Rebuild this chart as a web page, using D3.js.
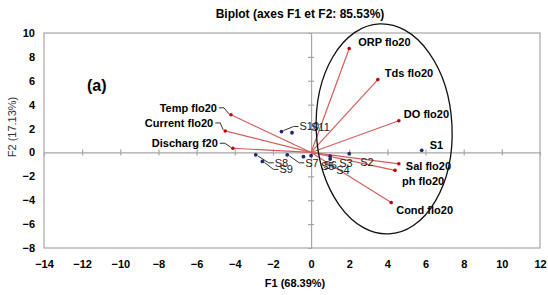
<!DOCTYPE html>
<html>
<head>
<meta charset="utf-8">
<script src="https://cdn.jsdelivr.net/npm/d3@7"></script>
<style>
  body { margin: 0; background: #fff; }
  svg { font-family: "Liberation Sans", Arial, sans-serif; }
  .tick-lbl { font-size: 11px; font-weight: bold; fill: #000; }
  .var-lbl { font-size: 11px; font-weight: bold; fill: #000; }
  .obs-lbl { font-size: 11px; fill: #222; }
</style>
</head>
<body>
<div id="chart"></div>
<script>
// variables (red vectors)
var varNames = ["ORP flo20", "Tds flo20", "DO flo20", "Sal flo20", "ph flo20", "Cond flo20", "Temp flo20", "Current flo20", "Discharg f20"];
var varF1 = [2.0, 3.5, 4.6, 4.6, 4.4, 4.2, -4.2, -4.5, -4.1];
var varF2 = [8.7, 6.1, 2.65, -0.95, -1.5, -4.2, 3.15, 1.8, 0.35];

// observations (blue points)
var obsNames = ["S1", "S2", "S3", "S4", "S5", "S6", "S7", "S8", "S9", "S10", "S11"];
var obsF1 = [5.8, 2.0, 1.0, 1.0, 0.0, -0.4, -1.25, -2.9, -2.55, -1.55, -1.0];
var obsF2 = [0.18, -0.1, -0.3, -0.55, -0.27, -0.35, -0.2, -0.2, -0.75, 1.75, 1.65];

var xTicks = [-14, -12, -10, -8, -6, -4, -2, 0, 2, 4, 6, 8, 10, 12];
var yTicks = [-8, -6, -4, -2, 0, 2, 4, 6, 8, 10];

// label placement (pixels from the mark): dx, dy, anchor, leader
var varLabelPos = {
  "ORP flo20": [9, -6, "start", false],
  "Tds flo20": [7, -6, "start", false],
  "DO flo20": [5, -7, "start", false],
  "Sal flo20": [7, 2, "start", false],
  "ph flo20": [7, 11, "start", false],
  "Cond flo20": [5, 8, "start", false],
  "Temp flo20": [-14, -7, "end", true],
  "Current flo20": [-12, -8, "end", true],
  "Discharg f20": [-15, -5, "end", true]
};
var obsLabelPos = {
  "S1": [8, -5, false], "S2": [11, 9, false], "S3": [9, 7, false], "S4": [6, 11, false],
  "S5": [10, 10, false], "S6": [20, 9, false], "S7": [18, 8, true], "S8": [19, 8, true],
  "S9": [17, 8, true], "S10": [18, -5, true], "S11": [19, -6, false]
};

var svgWidth = 548, svgHeight = 295;
var margin = { top: 33, right: 8, bottom: 47, left: 44 };
var width = svgWidth - margin.left - margin.right;
var height = svgHeight - margin.top - margin.bottom;

var svg = d3.select("#chart").append("svg")
  .attr("width", svgWidth)
  .attr("height", svgHeight);

var g = svg.append("g")
  .attr("transform", `translate(${margin.left}, ${margin.top})`);

var x = d3.scaleLinear().domain([-14, 12]).range([0, width]);
var y = d3.scaleLinear().domain([-8, 10]).range([height, 0]);

// frame
g.append("rect")
  .attr("width", width).attr("height", height)
  .attr("fill", "none").attr("stroke", "#a6a6a6").attr("stroke-width", 1.2);

// tick labels (bottom and left, outside the frame)
var bottomAxis = d3.axisBottom(x).tickValues(xTicks).tickSize(0).tickPadding(12);
var gx = g.append("g").attr("transform", `translate(0, ${height})`).call(bottomAxis);
gx.select(".domain").remove();
gx.selectAll("text").attr("class", "tick-lbl").attr("font-family", null).attr("font-size", null);

var leftAxis = d3.axisLeft(y).tickValues(yTicks).tickSize(0).tickPadding(9);
var gy = g.append("g").call(leftAxis);
gy.select(".domain").remove();
gy.selectAll("text").attr("class", "tick-lbl").attr("font-family", null).attr("font-size", null);

// zero axes with crossing ticks
var zx = d3.axisBottom(x).tickValues(xTicks.filter(d => d > -14 && d < 12 && d !== 0)).tickSize(3).tickFormat("");
var gzx = g.append("g").attr("transform", `translate(0, ${y(0)})`).call(zx);
gzx.selectAll("line").attr("y1", -3).attr("y2", 3);
var zy = d3.axisLeft(y).tickValues(yTicks.filter(d => d > -8 && d < 10 && d !== 0)).tickSize(3).tickFormat("");
var gzy = g.append("g").attr("transform", `translate(${x(0)}, 0)`).call(zy);
gzy.selectAll("line").attr("x1", -3).attr("x2", 3);
[gzx, gzy].forEach(function(a) {
  a.selectAll("line, path").attr("stroke", "#a6a6a6").attr("stroke-width", 1.2);
});

// vectors
var vars = varNames.map((n, i) => ({ name: n, f1: varF1[i], f2: varF2[i] }));
var obs = obsNames.map((n, i) => ({ name: n, f1: obsF1[i], f2: obsF2[i] }));

g.selectAll(".vec").data(vars).enter().append("line")
  .attr("x1", x(0)).attr("y1", y(0))
  .attr("x2", d => x(d.f1)).attr("y2", d => y(d.f2))
  .attr("stroke", "#d0605c").attr("stroke-width", 1.2);

g.selectAll(".vend").data(vars).enter().append("circle")
  .attr("cx", d => x(d.f1)).attr("cy", d => y(d.f2)).attr("r", 1.8)
  .attr("fill", "#c00000");

// leaders
g.selectAll(".vlead").data(vars.filter(d => varLabelPos[d.name][3])).enter().append("polyline")
  .attr("points", function(d) {
    var px = x(d.f1), py = y(d.f2), p = varLabelPos[d.name];
    var tx = px + p[0] + 2, ty = py + p[1];
    return [[tx, ty], [tx + 5, ty], [px - 2, py - 1]].join(" ");
  })
  .attr("fill", "none").attr("stroke", "#333").attr("stroke-width", 1);

g.selectAll(".vlbl").data(vars).enter().append("text")
  .attr("class", "var-lbl")
  .attr("x", d => x(d.f1) + varLabelPos[d.name][0])
  .attr("y", d => y(d.f2) + varLabelPos[d.name][1])
  .attr("dy", "0.35em")
  .attr("text-anchor", d => varLabelPos[d.name][2])
  .text(d => d.name);

// observations
g.selectAll(".olead").data(obs.filter(d => obsLabelPos[d.name][2])).enter().append("polyline")
  .attr("points", function(d) {
    var px = x(d.f1), py = y(d.f2), p = obsLabelPos[d.name];
    var tx = px + p[0] - 1, ty = py + p[1];
    return [[px + 2, py + (p[1] > 0 ? 1 : -1)], [tx - 5, ty], [tx, ty]].join(" ");
  })
  .attr("fill", "none").attr("stroke", "#333").attr("stroke-width", 1);

g.selectAll(".opt").data(obs).enter().append("circle")
  .attr("cx", d => x(d.f1)).attr("cy", d => y(d.f2)).attr("r", 1.9)
  .attr("fill", "#1f2a6e");

g.selectAll(".olbl").data(obs).enter().append("text")
  .attr("class", "obs-lbl")
  .attr("x", d => x(d.f1) + obsLabelPos[d.name][0])
  .attr("y", d => y(d.f2) + obsLabelPos[d.name][1])
  .attr("dy", "0.35em")
  .style("font-weight", d => d.name === "S1" ? "bold" : null)
  .style("fill", d => d.name === "S1" ? "#000" : null)
  .text(d => d.name);

// ellipse around the right-hand group
var ecx = 3.83, ecy = 1.97, erx = 3.56, ery = 8.8;
g.append("ellipse")
  .attr("cx", x(ecx)).attr("cy", y(ecy))
  .attr("rx", x(ecx + erx) - x(ecx)).attr("ry", y(0) - y(ery))
  .attr("transform", `rotate(-2.5, ${x(ecx)}, ${y(ecy)})`)
  .attr("fill", "none").attr("stroke", "#111").attr("stroke-width", 1.3);

// texts
svg.append("text")
  .attr("x", 300).attr("y", 18)
  .attr("text-anchor", "middle")
  .style("font-size", "12px").style("font-weight", "bold")
  .text("Biplot (axes F1 et F2: 85.53%)");

svg.append("text")
  .attr("x", 87).attr("y", 91)
  .style("font-size", "16px").style("font-weight", "bold")
  .text("(a)");

svg.append("text")
  .attr("x", 295).attr("y", 287)
  .attr("text-anchor", "middle")
  .style("font-size", "11px").style("font-weight", "bold")
  .text("F1 (68.39%)");

svg.append("text")
  .attr("transform", "translate(16, 127) rotate(-90)")
  .attr("text-anchor", "middle")
  .style("font-size", "11px").style("fill", "#333")
  .text("F2 (17.13%)");
</script>
</body>
</html>
